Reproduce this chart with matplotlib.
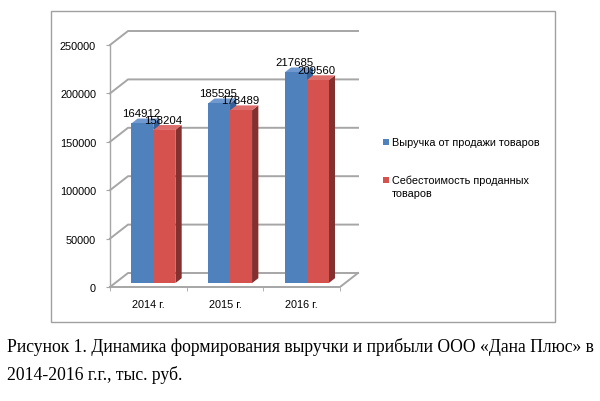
import matplotlib.pyplot as plt
from matplotlib.patches import Polygon, Rectangle

# data
years = ['2014 г.', '2015 г.', '2016 г.']
revenue = [164912, 185595, 217685]
cost = [158204, 178489, 209560]
series_names = ['Выручка от продажи товаров', 'Себестоимость проданных\nтоваров']
yticks = [0, 50000, 100000, 150000, 200000, 250000]
caption1 = 'Рисунок 1. Динамика формирования выручки и прибыли ООО «Дана Плюс» в'
caption2 = '2014-2016 г.г., тыс. руб.'

W, H = 600, 402
fig = plt.figure(figsize=(W / 100, H / 100), dpi=100)
ax = fig.add_axes([110 / W, 1 - 288 / H, 230 / W, 242 / H])
ax.set_xlim(-0.5, 2.5)
ax.set_ylim(0, 250000)

# 3d depth of walls, in data units
DX = 0.235
DY = 14463
f_off = 0.28   # bars start this far into the depth
f_dep = 0.35   # bar depth
bw = 0.287
grid_c = '#a6a6a6'

for v in yticks:
    ax.plot([-0.5, -0.5 + DX, 2.5 + DX], [v, v + DY, v + DY], color=grid_c, lw=1.4,
            clip_on=False, zorder=1)
ax.plot([-0.5, -0.5], [0, 250000], color=grid_c, lw=1, clip_on=False, zorder=1)
ax.plot([-0.5, 2.5, 2.5 + DX], [0, 0, DY], color=grid_c, lw=1.4, clip_on=False, zorder=1)

colors = [('#4f81bd', '#7099d0', '#36609a'), ('#d5524f', '#dc6e6b', '#84302e')]
for s, vals in enumerate([revenue, cost]):
    front, top, side = colors[s]
    for i, v in enumerate(vals):
        x0 = i + (s - 1) * bw + f_off * DX
        y0 = f_off * DY
        y1 = v + f_off * DY
        ddx, ddy = f_dep * DX, f_dep * DY
        z = 3 + s + i * 0.1
        ax.add_patch(Polygon([(x0 + bw, y0), (x0 + bw + ddx, y0 + ddy),
                              (x0 + bw + ddx, y1 + ddy), (x0 + bw, y1)],
                             closed=True, fc=side, ec='none', zorder=z, clip_on=False))
        ax.add_patch(Polygon([(x0, y1), (x0 + bw, y1), (x0 + bw + ddx, y1 + ddy),
                              (x0 + ddx, y1 + ddy)],
                             closed=True, fc=top, ec='none', zorder=z, clip_on=False))
        ax.add_patch(Rectangle((x0, y0), bw, v, fc=front, ec='none', zorder=z,
                               clip_on=False))
        ax.annotate(str(v), (x0 + bw / 2, y1), xytext=(-1, 5), textcoords='offset pixels',
                    ha='center', va='bottom', fontsize=8.2, family='Liberation Sans',
                    zorder=10, annotation_clip=False)

for sp in ax.spines.values():
    sp.set_visible(False)
ax.set_yticks(yticks)
ax.set_yticklabels([str(v) for v in yticks])
ax.set_xticks(range(len(years)))
ax.set_xticklabels(years)
ax.set_xticks([-0.5, 0.5, 1.5, 2.5], minor=True)
ax.tick_params(axis='y', length=3, color=grid_c, pad=7, labelsize=7.8)
ax.tick_params(axis='x', which='major', length=0, pad=9, labelsize=7.8)
ax.tick_params(axis='x', which='minor', length=3, color=grid_c)
for lab in ax.get_xticklabels() + ax.get_yticklabels():
    lab.set_family('Liberation Sans')
ax.patch.set_visible(False)

# legend
for k, name in enumerate(series_names):
    yc = [143, 187.5][k]
    fig.patches.append(Rectangle((383 / W, 1 - (yc + 3 if k == 0 else 181 + 3) / H), 6 / W, 6 / H,
                                 fc=colors[k][0], ec='none', transform=fig.transFigure))
    fig.text(392 / W, 1 - yc / H, name, ha='left', va='center', fontsize=7.8,
             family='Liberation Sans', linespacing=1.35)

# chart border
fig.patches.append(Rectangle((51 / W, 1 - 323 / H), 504 / W, 311 / H, fill=False,
                             ec='#a0a0a0', lw=1, transform=fig.transFigure))

fig.text(7 / W, 1 - 347 / H, caption1, ha='left', va='center', fontsize=12.7,
         family='Liberation Serif')
fig.text(7 / W, 1 - 375 / H, caption2, ha='left', va='center', fontsize=12.7,
         family='Liberation Serif')

fig.savefig('out.png', dpi=100)
